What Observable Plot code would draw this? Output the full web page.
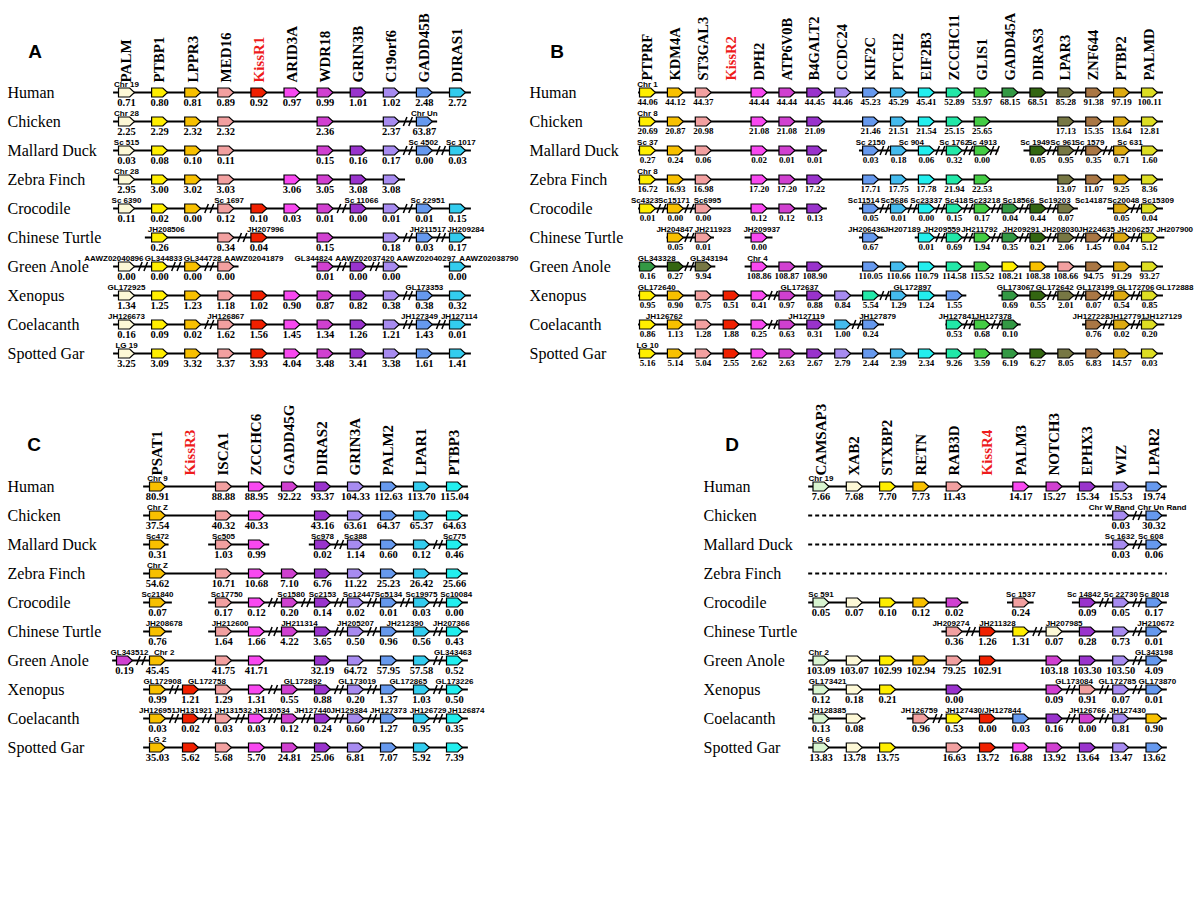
<!DOCTYPE html>
<html><head><meta charset="utf-8">
<script src="https://cdn.jsdelivr.net/npm/d3@7"></script>
<script src="https://cdn.jsdelivr.net/npm/@observablehq/plot@0.6"></script>
<style>
body{margin:0;background:#fff;}
#root{position:relative;width:1200px;height:907px;overflow:hidden;background:#fff;}
.panel{position:absolute;}
.letter{position:absolute;font:bold 19px "Liberation Sans",Arial,sans-serif;transform:translate(-50%,-50%);}
</style></head><body><div id="root"></div>
<script>
// ---------------- DATA ----------------
const species = ["Human","Chicken","Mallard Duck","Zebra Finch","Crocodile","Chinese Turtle","Green Anole","Xenopus","Coelacanth","Spotted Gar"];

// Panel A (KissR1)
const genesA = ["PALM","PTBP1","LPPR3","MED16","KissR1","ARID3A","WDR18","GRIN3B","C19orf6","GADD45B","DIRAS1"];
const colorsA = ["#fdf8d6","#ffee00","#f8c000","#f2a0a0","#f02000","#f848f0","#d040d0","#9933cc","#a78bf0","#6699ee","#33ccee"];
const valuesA = [
  [0.71,0.80,0.81,0.89,0.92,0.97,0.99,1.01,1.02,2.48,2.72],
  [2.25,2.29,2.32,2.32,null,null,2.36,null,2.37,63.87,null],
  [0.03,0.08,0.10,0.11,null,null,0.15,0.16,0.17,0.00,0.03],
  [2.95,3.00,3.02,3.03,null,3.06,3.05,3.08,3.08,null,null],
  [0.11,0.02,0.00,0.12,0.10,0.03,0.01,0.00,0.01,0.01,0.15],
  [null,0.26,null,0.34,0.04,null,0.15,null,0.18,0.03,0.17],
  [0.00,0.00,0.00,0.00,null,null,0.01,0.00,0.00,null,0.00],
  [1.34,1.25,1.23,1.18,1.02,0.90,0.87,0.82,0.38,0.38,0.32],
  [0.16,0.09,0.02,1.62,1.56,1.45,1.34,1.26,1.21,1.43,0.01],
  [3.25,3.09,3.32,3.37,3.93,4.04,3.48,3.41,3.38,1.61,1.41]
];
const extrasA = [];
const leftsA = [];
const scaffoldsA = [
  ["Human",0,"Chr 19"],["Chicken",0,"Chr 28"],["Chicken",9,"Chr Un"],
  ["Mallard Duck",0,"Sc 515"],["Mallard Duck",8.97,"Sc 4502"],["Mallard Duck",10.1,"Sc 1017"],
  ["Zebra Finch",0,"Chr 28"],
  ["Crocodile",0,"Sc 6390"],["Crocodile",3.1,"Sc 1697"],["Crocodile",7.1,"Sc 11066"],["Crocodile",9.1,"Sc 22951"],
  ["Chinese Turtle",1.2,"JH208506"],["Chinese Turtle",4.2,"JH207996"],["Chinese Turtle",9.1,"JH211517"],["Chinese Turtle",10.25,"JH209284"],
  ["Green Anole",-0.38,"AAWZ02040896"],["Green Anole",1.12,"GL344833"],["Green Anole",2.3,"GL344728"],["Green Anole",3.85,"AAWZ02041879"],
  ["Green Anole",5.65,"GL344824"],["Green Anole",7.2,"AAWZ02037420"],["Green Anole",9.05,"AAWZ02040297"],["Green Anole",10.95,"AAWZ02038790"],
  ["Xenopus",0,"GL172925"],["Xenopus",9,"GL173353"],
  ["Coelacanth",0,"JH126673"],["Coelacanth",3,"JH126867"],["Coelacanth",8.85,"JH127349"],["Coelacanth",10.05,"JH127114"],
  ["Spotted Gar",0,"LG 19"]
];
const breaksA = [
  ["Chicken",8.5],["Mallard Duck",8.5],["Mallard Duck",9.5],
  ["Crocodile",2.5],["Crocodile",6.5],["Crocodile",8.5],
  ["Chinese Turtle",3.5],["Chinese Turtle",8.5],["Chinese Turtle",9.5],
  ["Green Anole",0.5],["Green Anole",1.5],["Green Anole",2.5],["Green Anole",6.5],["Green Anole",7.5],
  ["Xenopus",8.5],["Coelacanth",2.5],["Coelacanth",8.5],["Coelacanth",9.5]
];
const segmentsA = [
  ["Human",-0.39,10.42],["Chicken",-0.39,9.4],["Mallard Duck",-0.39,10.42],["Zebra Finch",-0.39,8.43],
  ["Crocodile",-0.39,10.42],["Chinese Turtle",0.57,10.42],
  ["Green Anole",-0.39,3.4],["Green Anole",5.6,8.5],["Green Anole",9.6,10.42],
  ["Xenopus",-0.39,10.42],["Coelacanth",-0.39,10.42],["Spotted Gar",-0.39,10.42]
];

// Panel B (KissR2)
const genesB = ["PTPRF","KDM4A","ST3GAL3","KissR2","DPH2","ATP6V0B","B4GALT2","CCDC24","KIF2C","PTCH2","EIF2B3","ZCCHC11","GLIS1","GADD45A","DIRAS3","LPAR3","ZNF644","PTBP2","PALMD"];
const colorsB = ["#ffee00","#f8c000","#f2a0a0","#f02000","#f848f0","#d040d0","#9933cc","#a78bf0","#6699ee","#44bbee","#22eeee","#22e8a8","#44cc44","#339944","#336611","#777744","#aa7744","#ddaa11","#dddd22"];
const valuesB = [
  [44.06,44.12,44.37,null,44.44,44.44,44.45,44.46,45.23,45.29,45.41,52.89,53.97,68.15,68.51,85.28,91.38,97.19,100.11],
  [20.69,20.87,20.98,null,21.08,21.08,21.09,null,21.46,21.51,21.54,25.15,25.65,null,null,17.13,15.35,13.64,12.81],
  [0.27,0.24,0.06,null,0.02,0.01,0.01,null,0.03,0.18,0.06,0.32,0.00,null,0.05,0.95,0.35,0.71,1.60],
  [16.72,16.93,16.98,null,17.20,17.20,17.22,null,17.71,17.75,17.78,21.94,22.53,null,null,13.07,11.07,9.25,8.36],
  [0.01,0.00,0.00,null,0.12,0.12,0.13,null,0.05,0.01,0.00,0.15,0.17,0.04,0.44,0.07,null,0.05,0.04],
  [null,0.05,0.01,null,0.00,null,null,null,0.67,null,0.01,0.69,1.94,0.35,0.21,2.06,1.45,0.04,5.12],
  [null,null,null,null,108.86,108.87,108.90,null,110.05,110.66,110.79,114.58,115.52,null,null,null,94.75,91.29,93.27],
  [0.95,0.90,0.75,0.51,0.41,0.97,0.88,0.84,null,1.29,1.24,null,null,0.69,0.55,2.01,0.07,0.54,0.85],
  [0.86,1.13,1.28,1.88,0.25,0.63,0.31,null,0.24,null,null,0.53,0.68,0.10,null,null,0.76,0.02,0.20],
  [5.16,5.14,5.04,2.55,2.62,2.63,2.67,2.79,2.44,2.39,2.34,9.26,3.59,6.19,6.27,8.05,6.83,14.57,0.03]
];
const extrasB = [
  ["Green Anole",0,"GADD45A",0.16],["Green Anole",1,"DIRAS3",0.27],["Green Anole",2,"LPAR3",9.94],
  ["Green Anole",13,"PTPRF",108.21],["Green Anole",14,"KDM4A",108.38],["Green Anole",15,"ST3GAL3",108.66],
  ["Xenopus",8,"ZCCHC11",5.54],["Xenopus",11,"KIF2C",1.55],
  ["Coelacanth",7,"PTCH2",1.00]
];
const leftsB = [];
const scaffoldsB = [
  ["Human",0,"Chr 1"],["Chicken",0,"Chr 8"],
  ["Mallard Duck",0,"Sc 37"],["Mallard Duck",8,"Sc 2150"],["Mallard Duck",9.46,"Sc 904"],["Mallard Duck",11,"Sc 1762"],["Mallard Duck",12,"Sc 4913"],
  ["Mallard Duck",13.9,"Sc 1949"],["Mallard Duck",14.9,"Sc 961"],["Mallard Duck",15.85,"Sc 1579"],["Mallard Duck",17.3,"Sc 631"],
  ["Zebra Finch",0,"Chr 8"],
  ["Crocodile",-0.1,"Sc4323"],["Crocodile",0.95,"Sc15171"],["Crocodile",2.15,"Sc6995"],["Crocodile",7.75,"Sc11514"],["Crocodile",8.85,"Sc5686"],
  ["Crocodile",10,"Sc23337"],["Crocodile",11.07,"Sc418"],["Crocodile",12.08,"Sc23218"],["Crocodile",13.3,"Sc18566"],["Crocodile",14.6,"Sc19203"],
  ["Crocodile",15.9,"Sc14187"],["Crocodile",17.06,"Sc20048"],["Crocodile",18.3,"Sc15309"],
  ["Chinese Turtle",0.98,"JH204847"],["Chinese Turtle",2.35,"JH211923"],["Chinese Turtle",4.1,"JH209937"],["Chinese Turtle",7.85,"JH206436"],
  ["Chinese Turtle",9.13,"JH207189"],["Chinese Turtle",10.56,"JH209559"],["Chinese Turtle",11.9,"JH211792"],["Chinese Turtle",13.4,"JH209291"],
  ["Chinese Turtle",14.8,"JH208030"],["Chinese Turtle",16.1,"JH224635"],["Chinese Turtle",17.5,"JH206257"],["Chinese Turtle",18.9,"JH207900"],
  ["Green Anole",0.33,"GL343328"],["Green Anole",2.2,"GL343194"],["Green Anole",3.94,"Chr 4"],
  ["Xenopus",0.33,"GL172640"],["Xenopus",5.45,"GL172637"],["Xenopus",9.5,"GL172897"],["Xenopus",13.2,"GL173067"],["Xenopus",14.6,"GL172642"],
  ["Xenopus",16.05,"GL173199"],["Xenopus",17.5,"GL172706"],["Xenopus",18.9,"GL172888"],
  ["Coelacanth",0.6,"JH126762"],["Coelacanth",5.7,"JH127119"],["Coelacanth",8.25,"JH127879"],["Coelacanth",11.1,"JH127841"],["Coelacanth",12.4,"JH127378"],
  ["Coelacanth",15.9,"JH127228"],["Coelacanth",17.2,"JH127791"],["Coelacanth",18.5,"JH127129"],
  ["Spotted Gar",0,"LG 10"]
];
const breaksB = [
  ["Mallard Duck",8.5],["Mallard Duck",10.5],["Mallard Duck",11.5],["Mallard Duck",12.45],["Mallard Duck",14.5],["Mallard Duck",15.5],["Mallard Duck",16.5],
  ["Crocodile",0.5],["Crocodile",1.5],["Crocodile",8.5],["Crocodile",9.5],["Crocodile",10.5],["Crocodile",11.5],["Crocodile",12.5],["Crocodile",13.5],["Crocodile",14.5],["Crocodile",17.5],
  ["Chinese Turtle",1.5],["Chinese Turtle",10.5],["Chinese Turtle",11.5],["Chinese Turtle",12.5],["Chinese Turtle",13.5],["Chinese Turtle",14.5],["Chinese Turtle",15.5],["Chinese Turtle",16.5],["Chinese Turtle",17.5],
  ["Green Anole",1.5],
  ["Xenopus",4.5],["Xenopus",8.5],["Xenopus",14.5],["Xenopus",15.5],["Xenopus",16.5],["Xenopus",17.5],
  ["Coelacanth",4.5],["Coelacanth",7.5],["Coelacanth",11.5],["Coelacanth",12.5],["Coelacanth",16.5],["Coelacanth",17.5]
];
const segmentsB = [
  ["Human",-0.32,18.5],["Chicken",-0.32,18.5],
  ["Mallard Duck",-0.32,6.45],["Mallard Duck",7.6,12.6],["Mallard Duck",13.5,18.5],
  ["Zebra Finch",-0.32,18.5],
  ["Crocodile",-0.32,6.45],["Crocodile",7.6,15.45],["Crocodile",16.5,18.5],
  ["Chinese Turtle",0.7,2.4],["Chinese Turtle",3.5,4.5],["Chinese Turtle",7.6,8.45],["Chinese Turtle",9.6,18.55],
  ["Green Anole",-0.32,2.45],["Green Anole",3.5,18.5],
  ["Xenopus",-0.32,11.45],["Xenopus",12.6,18.5],
  ["Coelacanth",-0.32,8.5],["Coelacanth",10.7,13.4],["Coelacanth",15.6,18.55],
  ["Spotted Gar",-0.32,18.5]
];

// Panel C (KissR3)
const genesC = ["PSAT1","KissR3","ISCA1","ZCCHC6","GADD45G","DIRAS2","GRIN3A","PALM2","LPAR1","PTBP3"];
const colorsC = ["#f8c000","#f02000","#f2a0a0","#f848f0","#d040d0","#9933cc","#a78bf0","#6699ee","#33ccee","#22eeee"];
const valuesC = [
  [80.91,null,88.88,88.95,92.22,93.37,104.33,112.63,113.70,115.04],
  [37.54,null,40.32,40.33,null,43.16,63.61,64.37,65.37,64.63],
  [0.31,null,1.03,0.99,null,0.02,1.14,0.60,0.12,0.46],
  [54.62,null,10.71,10.68,7.10,6.76,11.22,25.23,26.42,25.66],
  [0.07,null,0.17,0.12,0.20,0.14,0.02,0.01,0.03,0.00],
  [0.76,null,1.64,1.66,4.22,3.65,0.50,0.96,0.56,0.43],
  [45.45,null,41.75,41.71,null,32.19,64.72,57.95,57.58,0.52],
  [0.99,1.21,1.29,1.31,0.55,0.88,0.20,1.37,1.03,0.50],
  [0.03,0.02,0.03,0.03,0.12,0.24,0.60,1.27,0.95,0.35],
  [35.03,5.62,5.68,5.70,24.81,25.06,6.81,7.07,5.92,7.39]
];
const extrasC = [["Green Anole",-1,"GADD45G",0.19]];
const leftsC = [];
const scaffoldsC = [
  ["Human",0,"Chr 9"],["Chicken",0,"Chr Z"],
  ["Mallard Duck",0,"Sc472"],["Mallard Duck",2,"Sc505"],["Mallard Duck",5,"Sc978"],["Mallard Duck",6,"Sc388"],["Mallard Duck",9,"Sc775"],
  ["Zebra Finch",0,"Chr Z"],
  ["Crocodile",0,"Sc21840"],["Crocodile",2.1,"Sc17750"],["Crocodile",4.05,"Sc1580"],["Crocodile",5,"Sc2153"],["Crocodile",6.1,"Sc12447"],
  ["Crocodile",7,"Sc5134"],["Crocodile",8,"Sc19975"],["Crocodile",9.05,"Sc10084"],
  ["Chinese Turtle",0.2,"JH208678"],["Chinese Turtle",2.2,"JH212600"],["Chinese Turtle",4.3,"JH211314"],["Chinese Turtle",6,"JH205207"],
  ["Chinese Turtle",7.5,"JH212390"],["Chinese Turtle",8.9,"JH207366"],
  ["Green Anole",-0.85,"GL343512"],["Green Anole",0.2,"Chr 2"],["Green Anole",8.95,"GL343463"],
  ["Xenopus",0.15,"GL172908"],["Xenopus",1.5,"GL172758"],["Xenopus",4.4,"GL172892"],["Xenopus",6.05,"GL173019"],["Xenopus",7.6,"GL172865"],["Xenopus",9,"GL173226"],
  ["Coelacanth",0,"JH126951"],["Coelacanth",1.1,"JH131921"],["Coelacanth",2.3,"JH131532"],["Coelacanth",3.45,"JH130534"],["Coelacanth",4.7,"JH127440"],
  ["Coelacanth",5.8,"JH129384"],["Coelacanth",7,"JH127373"],["Coelacanth",8.2,"JH126729"],["Coelacanth",9.35,"JH126874"],
  ["Spotted Gar",0,"LG 2"]
];
const breaksC = [
  ["Mallard Duck",5.5],["Mallard Duck",8.5],
  ["Crocodile",3.5],["Crocodile",4.5],["Crocodile",5.5],["Crocodile",6.5],["Crocodile",7.5],["Crocodile",8.5],
  ["Chinese Turtle",3.5],["Chinese Turtle",5.5],["Chinese Turtle",6.5],["Chinese Turtle",8.5],
  ["Green Anole",-0.5],["Green Anole",8.5],
  ["Xenopus",0.5],["Xenopus",3.5],["Xenopus",5.5],["Xenopus",6.5],["Xenopus",8.5],
  ["Coelacanth",0.5],["Coelacanth",1.5],["Coelacanth",2.5],["Coelacanth",3.5],["Coelacanth",4.5],["Coelacanth",5.5],["Coelacanth",6.5],["Coelacanth",8.5]
];
const segmentsC = [
  ["Human",-0.42,9.42],["Chicken",-0.42,9.42],
  ["Mallard Duck",-0.42,0.35],["Mallard Duck",1.55,3.4],["Mallard Duck",4.6,9.42],
  ["Zebra Finch",-0.42,9.42],
  ["Crocodile",-0.42,0.45],["Crocodile",1.55,9.42],
  ["Chinese Turtle",-0.42,0.45],["Chinese Turtle",1.55,9.42],
  ["Green Anole",-1.36,9.42],["Xenopus",-0.42,9.42],["Coelacanth",-0.42,9.42],["Spotted Gar",-0.42,9.42]
];

// Panel D (KissR4)
const genesD = ["CAMSAP3","XAB2","STXBP2","RETN","RAB3D","KissR4","PALM3","NOTCH3","EPHX3","WIZ","LPAR2"];
const colorsD = ["#d8f4d0","#fdf8d6","#ffee00","#f8c000","#f2a0a0","#f02000","#f848f0","#d040d0","#9933cc","#a78bf0","#6699ee"];
const valuesD = [
  [7.66,7.68,7.70,7.73,11.43,null,14.17,15.27,15.34,15.53,19.74],
  [null,null,null,null,null,null,null,null,null,0.03,30.32],
  [null,null,null,null,null,null,null,null,null,0.03,0.06],
  [null,null,null,null,null,null,null,null,null,null,null],
  [0.05,0.07,0.10,0.12,null,null,null,null,0.09,0.05,0.17],
  [null,null,null,null,0.36,1.26,null,null,0.28,0.73,0.01],
  [103.09,103.07,102.99,102.94,79.25,102.91,null,103.18,103.30,103.50,4.09],
  [0.12,0.18,0.21,null,null,null,null,0.09,null,0.07,0.01],
  [0.13,0.08,null,null,null,0.00,null,null,null,0.81,null],
  [13.83,13.78,13.75,null,16.63,13.72,16.88,13.92,13.64,13.47,13.62]
];
const extrasD = [
  ["Crocodile",4,"NOTCH3",0.02],["Crocodile",6,"RAB3D",0.24],
  ["Chinese Turtle",6,"STXBP2",1.31],["Chinese Turtle",7,"XAB2",0.07],
  ["Xenopus",4,"EPHX3",0.00],["Xenopus",8,"RAB3D",0.91],
  ["Coelacanth",3,"RAB3D",0.96],["Coelacanth",4,"STXBP2",0.53],["Coelacanth",6,"LPAR2",0.03],
  ["Coelacanth",7,"EPHX3",0.16],["Coelacanth",8,"NOTCH3",0.00],["Coelacanth",10,"RETN",0.90]
];
const leftsD = [];
const scaffoldsD = [
  ["Human",0,"Chr 19"],
  ["Chicken",8.73,"Chr W Rand"],["Chicken",10.24,"Chr Un Rand"],
  ["Mallard Duck",8.97,"Sc 1632"],["Mallard Duck",9.9,"Sc 608"],
  ["Crocodile",0,"Sc 591"],["Crocodile",6,"Sc 1537"],["Crocodile",7.9,"Sc 14842"],["Crocodile",9,"Sc 22730"],["Crocodile",10,"Sc 8018"],
  ["Chinese Turtle",3.9,"JH209274"],["Chinese Turtle",5.3,"JH211328"],["Chinese Turtle",7.3,"JH207985"],["Chinese Turtle",10.05,"JH210672"],
  ["Green Anole",-0.07,"Chr 2"],["Green Anole",10,"GL343198"],
  ["Xenopus",0.2,"GL173421"],["Xenopus",7.6,"GL173084"],["Xenopus",8.9,"GL172785"],["Xenopus",10.1,"GL173870"],
  ["Coelacanth",0.2,"JH128385"],["Coelacanth",2.95,"JH126759"],["Coelacanth",4.87,"JH127430/JH127844"],["Coelacanth",8,"JH126766"],["Coelacanth",9.2,"JH127430"],
  ["Spotted Gar",0,"LG 6"]
];
const breaksD = [
  ["Chicken",9.5],["Mallard Duck",9.5],["Crocodile",8.5],["Crocodile",9.5],
  ["Chinese Turtle",4.5],["Chinese Turtle",6.5],["Chinese Turtle",9.5],
  ["Green Anole",9.5],["Xenopus",7.5],["Xenopus",8.5],["Xenopus",9.5],
  ["Coelacanth",3.5],["Coelacanth",7.5],["Coelacanth",8.5]
];
const segmentsD = [
  ["Human",-0.37,10.4],["Chicken",8.6,10.4],["Mallard Duck",8.6,10.4],
  ["Crocodile",-0.37,4.44],["Crocodile",5.6,6.4],["Crocodile",7.55,10.4],
  ["Chinese Turtle",3.63,10.4],["Green Anole",-0.37,10.4],["Xenopus",-0.37,10.4],
  ["Coelacanth",-0.37,1.35],["Coelacanth",2.59,10.4],["Spotted Gar",-0.37,10.4]
];
const dashedD = [["Chicken",-0.37,8.56],["Mallard Duck",-0.37,8.56],["Zebra Finch",-0.37,10.4]];

// ---------------- DRAWING ----------------
const SERIF = "Liberation Serif, Times New Roman, serif";
const SANS = "Liberation Sans, Arial, sans-serif";

const arrowRight = {draw(ctx, size) {
  const r = Math.sqrt(size / Math.PI), h = r * 0.56, t = r * 0.4;
  ctx.moveTo(-r, -h); ctx.lineTo(t, -h); ctx.lineTo(r, 0); ctx.lineTo(t, h); ctx.lineTo(-r, h); ctx.closePath();
}};
const arrowLeft = {draw(ctx, size) {
  const r = Math.sqrt(size / Math.PI), h = r * 0.56, t = r * 0.4;
  ctx.moveTo(r, -h); ctx.lineTo(-t, -h); ctx.lineTo(-r, 0); ctx.lineTo(-t, h); ctx.lineTo(r, h); ctx.closePath();
}};
const breakMark = {draw(ctx, size) {
  const r = Math.sqrt(size / Math.PI);
  ctx.moveTo(-r, r); ctx.lineTo(-r * 0.2, -r);
  ctx.moveTo(r * 0.2, r); ctx.lineTo(r, -r);
}};

function panel(cfg) {
  const {genes, colors, values, extras, lefts, scaffolds, breaks, segments, dashed = [], kiss,
    left, top, width, height, xDomain, xRange, yRange, nameTop, labelLeft, numSize, nameSize} = cfg;
  const loci = [];
  values.forEach((row, si) => row.forEach((v, gi) => { if (v !== null) loci.push({sp: species[si], pos: gi, gene: genes[gi], v}); }));
  extras.forEach(([sp, pos, gene, v]) => loci.push({sp, pos, gene, v}));
  const leftKeys = new Set(lefts.map(([sp, pos]) => sp + "|" + pos));
  const isLeft = d => leftKeys.has(d.sp + "|" + d.pos);
  const segs = segments.map(([sp, x1, x2]) => ({sp, x1, x2}));
  const dash = dashed.map(([sp, x1, x2]) => ({sp, x1, x2}));
  const brk = breaks.map(([sp, pos]) => ({sp, pos}));
  const scf = scaffolds.map(([sp, pos, label]) => ({sp, pos, label}));
  const names = genes.map((g, i) => ({g, i}));
  const nameOpts = {x: "i", frameAnchor: "top", text: "g", rotate: -90, textAnchor: "start", lineAnchor: "middle",
    fontSize: nameSize, fontWeight: "bold", fontFamily: SERIF};
  const svg = Plot.plot({
    width, height, marginTop: nameTop, marginLeft: labelLeft, marginRight: 0, marginBottom: 0,
    x: {type: "linear", domain: xDomain, range: xRange, axis: null},
    y: {type: "point", domain: species, range: yRange, padding: 0, axis: null},
    color: {type: "ordinal", domain: genes, range: colors},
    style: {background: "transparent", overflow: "visible"},
    marks: [
      Plot.ruleY(segs, {y: "sp", x1: "x1", x2: "x2", stroke: "#000", strokeWidth: 2}),
      Plot.ruleY(dash, {y: "sp", x1: "x1", x2: "x2", stroke: "#000", strokeWidth: 2, strokeDasharray: "4,3"}),
      Plot.dot(brk, {x: "pos", y: "sp", r: 4.5, symbol: breakMark, fill: "none", stroke: "#000", strokeWidth: 1.5}),
      Plot.dot(loci.filter(d => !isLeft(d)), {x: "pos", y: "sp", r: 8, symbol: arrowRight, fill: "gene", stroke: "#000", strokeWidth: 1.2}),
      Plot.dot(loci.filter(isLeft), {x: "pos", y: "sp", r: 8, symbol: arrowLeft, fill: "gene", stroke: "#000", strokeWidth: 1.2}),
      Plot.text(loci, {x: "pos", y: "sp", text: d => d.v.toFixed(2), dy: 10, fontSize: numSize, fontWeight: "bold", fontFamily: SERIF}),
      Plot.text(scf, {x: "pos", y: "sp", text: "label", dy: -8, fontSize: 8, fontWeight: "bold", fontFamily: SANS}),
      Plot.text(species, {y: d => d, text: d => d, frameAnchor: "left", textAnchor: "start", fontSize: 16, fontFamily: SERIF}),
      Plot.text(names.filter(d => d.g !== kiss), {...nameOpts, fill: "#000"}),
      Plot.text(names.filter(d => d.g === kiss), {...nameOpts, fill: "#ee1c1c"})
    ]
  });
  const div = document.createElement("div");
  div.className = "panel";
  div.style.left = left + "px"; div.style.top = top + "px";
  div.appendChild(svg);
  document.getElementById("root").appendChild(div);
}

function letter(t, x, y) {
  const d = document.createElement("div");
  d.className = "letter"; d.textContent = t;
  d.style.left = x + "px"; d.style.top = y + "px";
  document.getElementById("root").appendChild(d);
}

panel({genes: genesA, colors: colorsA, values: valuesA, extras: extrasA, lefts: leftsA, scaffolds: scaffoldsA,
  breaks: breaksA, segments: segmentsA, kiss: "KissR1", left: 0, top: 0, width: 540, height: 370,
  xDomain: [0, 10], xRange: [126, 457], yRange: [92, 353], nameTop: 82, labelLeft: 7, numSize: 10.5, nameSize: 15});
panel({genes: genesB, colors: colorsB, values: valuesB, extras: extrasB, lefts: leftsB, scaffolds: scaffoldsB,
  breaks: breaksB, segments: segmentsB, kiss: "KissR2", left: 520, top: 0, width: 680, height: 370,
  xDomain: [0, 18], xRange: [127, 629], yRange: [92, 353], nameTop: 80, labelLeft: 9, numSize: 9, nameSize: 14.5});
panel({genes: genesC, colors: colorsC, values: valuesC, extras: extrasC, lefts: leftsC, scaffolds: scaffoldsC,
  breaks: breaksC, segments: segmentsC, kiss: "KissR3", left: 0, top: 380, width: 520, height: 400,
  xDomain: [0, 9], xRange: [157, 454], yRange: [106, 367], nameTop: 95, labelLeft: 7, numSize: 10.5, nameSize: 15});
panel({genes: genesD, colors: colorsD, values: valuesD, extras: extrasD, lefts: leftsD, scaffolds: scaffoldsD,
  breaks: breaksD, segments: segmentsD, dashed: dashedD, kiss: "KissR4", left: 680, top: 380, width: 520, height: 400,
  xDomain: [0, 10], xRange: [140.5, 473.5], yRange: [106, 367], nameTop: 95, labelLeft: 23, numSize: 10.5, nameSize: 15});

letter("A", 35, 52); letter("B", 557, 52); letter("C", 34, 445); letter("D", 732, 445);
</script></body></html>
